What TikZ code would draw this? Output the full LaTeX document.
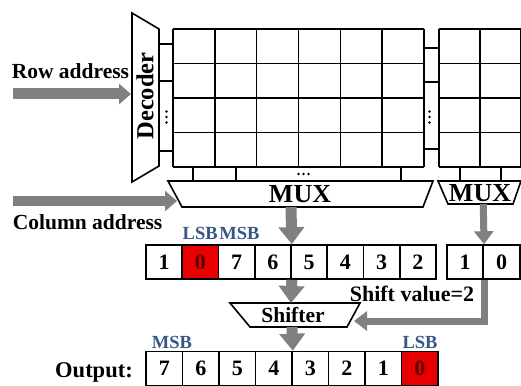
\documentclass[tikz,border=0pt]{standalone}
\usepackage{fontspec}
\setmainfont{Liberation Serif}
\usetikzlibrary{arrows.meta}
\definecolor{arrowgray}{RGB}{128,128,128}
\definecolor{bitred}{RGB}{232,0,0}
\definecolor{bitdark}{RGB}{90,0,0}
\definecolor{labelblue}{RGB}{52,88,130}
\newcommand{\bfsize}[1]{\bfseries\fontsize{#1}{#1}\selectfont}

\begin{document}
\begin{tikzpicture}[x=1pt,y=-1pt,line width=1.6pt,line join=miter,
  bitcell/.style={draw,minimum width=36.25pt,minimum height=34pt,inner sep=0pt,font=\bfsize{22}},
  outcell/.style={bitcell,minimum width=36.5pt},
  redcell/.style={fill=bitred,text=bitdark},
  bitlabel/.style={inner sep=0pt,text=labelblue,font=\bfsize{18.5}},
  plainlabel/.style={inner sep=0pt,font=\bfsize{21.5}},
  dotmark/.style={fill=black,radius=1.4pt},
  bigarrow/.style={draw=arrowgray,line width=11pt,-{Triangle[width=25pt,length=17pt]}},
  midarrow/.style={draw=arrowgray,line width=7pt,-{Triangle[width=19pt,length=13pt]}},
  addrarrow/.style={draw=arrowgray,line width=11pt,-{Triangle[width=20pt,length=12pt]}}]
\useasboundingbox (0,0) rectangle (521,385);

% row decoder
\draw (132,13) -- (159,29) -- (159,166) -- (132,182) -- cycle;
\node[rotate=90,inner sep=0pt,font=\bfsize{24.5}] (dec) at (145,96) {Decoder};
\coordinate (decin) at (131,94);
\foreach \y in {44,81,151} \draw (159,\y) -- (173,\y);
\foreach \y in {111.5,117,122.5} \fill[dotmark] (166.5,\y) circle;

% first cell array
\foreach \i in {0,...,6} \draw (173+41.83*\i,29) -- (173+41.83*\i,167);
\foreach \j in {0,...,4} \draw (173,29+34.5*\j) -- (424,29+34.5*\j);
% second cell array
\foreach \x in {439,480,521} \draw (\x,29) -- (\x,167);
\foreach \j in {0,...,4} \draw (439,29+34.5*\j) -- (525,29+34.5*\j);
\foreach \y in {48,82,149} \draw (424,\y) -- (439,\y);
\foreach \y in {111.5,117,122.5} \fill[dotmark] (429.5,\y) circle;

% bit lines down to the multiplexers
\foreach \x in {193,236,401,460,501} \draw (\x,167) -- (\x,181);
\foreach \x in {298.5,303.5,308.5} \fill[dotmark] (\x,174) circle;

% multiplexers
\draw (168,181) -- (433,181) -- (423,207) -- (182,207) -- cycle;
\node[inner sep=0pt,font=\bfsize{26}] (mux1) at (300,194) {MUX};
\draw (438,181) -- (521,181) -- (513,204) -- (448,204) -- cycle;
\node[inner sep=0pt,font=\bfsize{26}] (mux2) at (480,193) {MUX};
\coordinate (m1out) at (291,207);
\coordinate (m2out) at (483.25,204);

% address inputs
\node[plainlabel,anchor=west] (rowlbl) at (11,71.5) {Row address};
\coordinate (rowin) at (13,94);
\draw[addrarrow] (rowin) -- (decin);
\node[plainlabel,anchor=west] (collbl) at (12,222.5) {Column address};
\coordinate (colin) at (13,201);
\coordinate (muxin) at (177,201);
\draw[addrarrow,line width=10pt] (colin) -- (muxin);

% word read out of the array
\foreach \v [count=\i] in {1,0,7,6,5,4,3,2}
  \node[bitcell] (a\i) at (146+36.25*\i-18.125,262) {\v};
\node[bitcell,redcell] at (a2) {0};
\node[bitcell,minimum width=36.5pt] (b1) at (465,262) {1};
\node[bitcell,minimum width=36.5pt] (b2) at (501.5,262) {0};
\node[bitlabel,anchor=east] (lsb1) at (218.5,233) {LSB};
\node[bitlabel,anchor=west] (msb1) at (218.5,233) {MSB};

\draw[bigarrow] (m1out) -- (a4.north east);
\draw[midarrow] (m2out) -- (b1.north east);

% shifter
\draw (230,303) -- (360,303) -- (347,327) -- (250,327) -- cycle;
\node[inner sep=0pt,font=\bfsize{21.5}] (shifter) at (293,315) {Shifter};
\coordinate (shtop) at (291,303);
\coordinate (shbot) at (292,327);
\coordinate (shin) at (354,321);
\node[plainlabel,font=\bfsize{22}] (shiftval) at (412,294) {Shift value=2};

\draw[bigarrow] (a4.south east) -- (shtop);
\draw[midarrow] (b1.south east) |- (shin);

% output word
\node[plainlabel,font=\bfsize{22.5}] (outlbl) at (94,372) {Output:};
\foreach \v [count=\i] in {7,6,5,4,3,2,1,0}
  \node[outcell] (o\i) at (146+36.5*\i-18.25,368.5) {\v};
\node[outcell,redcell] at (o8) {0};
\node[bitlabel] (msb2) at (172,342) {MSB};
\node[bitlabel] (lsb2) at (420,342) {LSB};

\draw[bigarrow] (shbot) -- (o4.north east);
\end{tikzpicture}
\end{document}
